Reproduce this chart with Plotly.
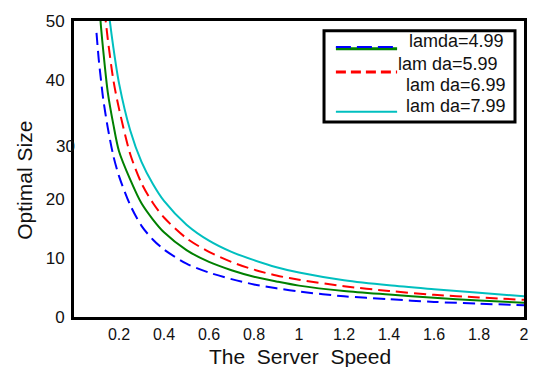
import plotly.graph_objects as go

# Server speed samples and optimal size for each arrival rate
speed = [0.10, 0.11, 0.12, 0.13, 0.15, 0.175, 0.2, 0.25, 0.3, 0.35, 0.4, 0.5,
         0.6, 0.7, 0.8, 0.9, 1.0, 1.2, 1.4, 1.6, 1.8, 2.0]
size_499 = [48, 43.5, 40, 36.8, 32, 27.2, 23.8, 18.9, 15.4, 13.1, 11.4, 9.0,
            7.5, 6.4, 5.5, 4.85, 4.3, 3.5, 3.0, 2.55, 2.25, 2.0]
size_599 = [60, 54, 49, 45, 38, 32.5, 28, 23.2, 19.2, 16.5, 14.3, 11.3,
            9.3, 7.9, 6.8, 6.0, 5.3, 4.4, 3.8, 3.25, 2.8, 2.4]
size_699 = [70, 64, 59, 54, 47, 40, 35.2, 27.5, 22.6, 19.3, 16.8, 13.3,
            11.0, 9.3, 8.0, 7.0, 6.3, 5.2, 4.4, 3.75, 3.3, 2.9]
size_799 = [78, 71, 66, 61, 53, 45.5, 39.5, 31.5, 26.2, 22.5, 19.6, 15.6,
            12.9, 11.0, 9.6, 8.4, 7.5, 6.2, 5.35, 4.7, 4.1, 3.5]

legend_labels = ["lamda=4.99", "lam da=5.99", "lam da=6.99", "lam da=7.99"]
x_ticks = [0.2, 0.4, 0.6, 0.8, 1, 1.2, 1.4, 1.6, 1.8, 2]
y_ticks = [0, 10, 20, 40, 50]

BLUE = "rgb(0,0,255)"
GREEN = "rgb(0,128,0)"
RED = "rgb(255,0,0)"
CYAN = "rgb(0,191,191)"
FONT = "Liberation Sans, Arial, sans-serif"

series = [
    (size_499, BLUE, "12px,6px"),
    (size_599, GREEN, "solid"),
    (size_699, RED, "12px,6px"),
    (size_799, CYAN, "solid"),
]

fig = go.Figure()
for vals, color, dash in series:
    fig.add_trace(go.Scatter(
        x=speed, y=vals, mode="lines",
        line=dict(color=color, width=2, dash=dash, shape="spline", smoothing=0.8),
        showlegend=False, hoverinfo="skip",
    ))

axis_common = dict(
    showline=True, linecolor="black", linewidth=3, mirror=True,
    showgrid=False, zeroline=False, ticks="",
)

fig.update_layout(
    width=544, height=367,
    margin=dict(l=74, r=20, t=15, b=50),
    paper_bgcolor="white", plot_bgcolor="white",
    xaxis=dict(range=[0, 2], tickvals=x_ticks, ticklabelstandoff=1,
               ticktext=[f"{v:g}" for v in x_ticks],
               tickfont=dict(family=FONT, size=16, color="#111"), **axis_common),
    yaxis=dict(range=[0, 50], tickvals=y_ticks, ticklabelstandoff=3,
               ticktext=[str(v) for v in y_ticks],
               tickfont=dict(family=FONT, size=17, color="#111"), **axis_common),
)

annotations = [
    # lone "30" label, nudged toward the axis
    dict(text="30", x=0.007, xref="paper", y=30, yref="y", yshift=-7,
         xanchor="right", yanchor="middle", showarrow=False,
         font=dict(family=FONT, size=17, color="#111")),
    dict(text="The  Server  Speed", x=0.502, xref="paper", y=-0.1325, yref="paper",
         xanchor="center", yanchor="middle", showarrow=False,
         font=dict(family=FONT, size=21, color="#111")),
    dict(text="Optimal Size", x=-0.109, xref="paper", y=0.4636, yref="paper",
         xanchor="center", yanchor="middle", textangle=-90, showarrow=False,
         font=dict(family=FONT, size=21, color="#111")),
]

# hand-built legend box
shapes = [
    dict(type="rect", xref="paper", yref="paper", x0=0.5556, x1=0.98,
         y0=0.659, y1=0.967, line=dict(color="black", width=3),
         fillcolor="white", layer="above"),
    dict(type="line", xref="paper", yref="paper", x0=0.582, x1=0.718,
         y0=0.906, y1=0.906, line=dict(color=GREEN, width=3), layer="above"),
    dict(type="line", xref="paper", yref="paper", x0=0.582, x1=0.718,
         y0=0.912, y1=0.912, line=dict(color=BLUE, width=2, dash="15px,6px"),
         layer="above"),
    dict(type="line", xref="paper", yref="paper", x0=0.582, x1=0.718,
         y0=0.828, y1=0.828, line=dict(color=RED, width=3, dash="10px,5px"),
         layer="above"),
    dict(type="line", xref="paper", yref="paper", x0=0.582, x1=0.718,
         y0=0.693, y1=0.693, line=dict(color=CYAN, width=2), layer="above"),
]
label_pos = [(0.740, 0.934), (0.7156, 0.854), (0.733, 0.785), (0.733, 0.712)]
for text, (lx, ly) in zip(legend_labels, label_pos):
    annotations.append(dict(
        text=text, x=lx, xref="paper", y=ly, yref="paper",
        xanchor="left", yanchor="middle", showarrow=False,
        font=dict(family=FONT, size=18, color="#111")))

fig.update_layout(annotations=annotations, shapes=shapes)
fig.write_html("out.html")
